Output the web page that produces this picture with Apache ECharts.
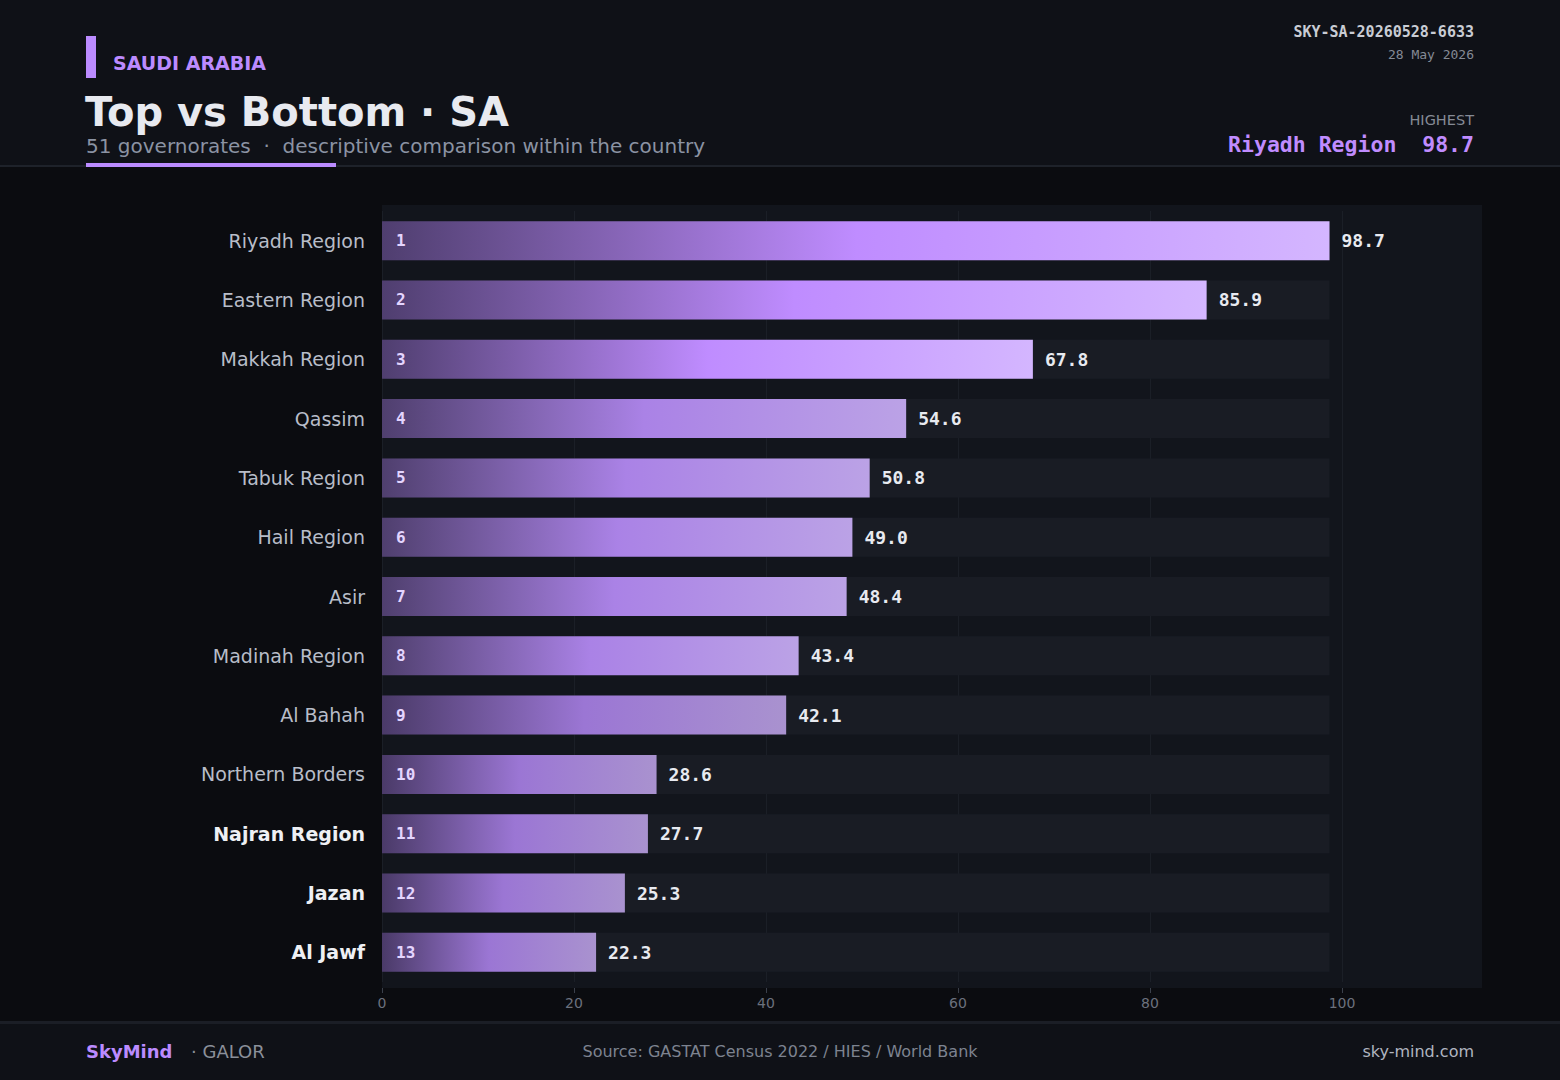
<!DOCTYPE html>
<html>
<head>
<meta charset="utf-8">
<script src="https://cdn.jsdelivr.net/npm/echarts@6/dist/echarts.min.js"></script>
<style>
  html, body { margin: 0; padding: 0; background: #0b0c10; }
  #chart { width: 1560px; height: 1080px; }
</style>
</head>
<body>
<div id="chart"></div>
<script>
// data, ranked top to bottom
var regions = ['Riyadh Region', 'Eastern Region', 'Makkah Region', 'Qassim', 'Tabuk Region', 'Hail Region', 'Asir',
  'Madinah Region', 'Al Bahah', 'Northern Borders', 'Najran Region', 'Jazan', 'Al Jawf'];
var values = [98.7, 85.9, 67.8, 54.6, 50.8, 49.0, 48.4, 43.4, 42.1, 28.6, 27.7, 25.3, 22.3];
var bottomNames = ['Najran Region', 'Jazan', 'Al Jawf'];
var xTicks = [0, 20, 40, 60, 80, 100];

// colour tier per bar (0 bright, 1 mid, 2 dim)
var tierOf = [0, 0, 0, 1, 1, 1, 1, 1, 2, 2, 2, 2, 2];
var tierStops = [
  ['#4f3e6f', '#bf8cff', '#d4b6ff'],
  ['#4f3f6e', '#aa82e6', '#bba2e6'],
  ['#4a3a68', '#9b76d4', '#a992cf']
];

var ACCENT = '#bb8bff';
var SANS = '"DejaVu Sans", "Noto Sans", sans-serif';
var MONO = '"DejaVu Sans Mono", "Liberation Mono", monospace';

var trackLen = Math.max.apply(null, values);

function barGradient(i) {
  var s = tierStops[tierOf[i]];
  return new echarts.graphic.LinearGradient(0, 0, 1, 0, [
    { offset: 0, color: s[0] },
    { offset: 0.5, color: s[1] },
    { offset: 1, color: s[2] }
  ]);
}

var chart = echarts.init(document.getElementById('chart'), null, { renderer: 'svg' });

chart.setOption({
  backgroundColor: '#0b0c10',
  animation: false,
  grid: { left: 382, top: 211, width: 960, height: 771, containLabel: false },
  xAxis: {
    type: 'value', min: xTicks[0], max: xTicks[xTicks.length - 1], interval: 20,
    offset: 6,
    axisLine: { show: false },
    axisTick: { show: true, length: 5, lineStyle: { color: '#3b404b' } },
    axisLabel: { color: '#6b717d', fontSize: 14, fontFamily: SANS, margin: 8 },
    splitLine: { show: true, lineStyle: { color: '#1b1f27', width: 1 } }
  },
  yAxis: {
    type: 'category', inverse: true, data: regions,
    axisLine: { show: false }, axisTick: { show: false },
    axisLabel: {
      margin: 17,
      formatter: function (v) {
        return bottomNames.indexOf(v) >= 0 ? '{b|' + v + '}' : '{r|' + v + '}';
      },
      rich: {
        r: { fontSize: 19, fontFamily: SANS, color: '#b8bdc8' },
        b: { fontSize: 19, fontFamily: SANS, fontWeight: 'bold', color: '#eef0f4' }
      }
    }
  },
  series: [
    {
      type: 'bar', name: 'track', silent: true, z: 1,
      data: values.map(function () { return trackLen; }),
      barWidth: 39, barGap: '-100%',
      itemStyle: { color: '#191c24' }
    },
    {
      type: 'bar', name: 'value', z: 2,
      data: values.map(function (v, i) { return { value: v, itemStyle: { color: barGradient(i) } }; }),
      barWidth: 39, barGap: '-100%',
      label: {
        show: true, position: 'insideLeft', distance: 14,
        formatter: function (p) { return String(p.dataIndex + 1); },
        fontFamily: MONO, fontSize: 16, fontWeight: 'bold', color: '#e4d5ff'
      }
    },
    {
      type: 'bar', name: 'labels', silent: true, z: 3,
      data: values,
      barWidth: 39, barGap: '-100%',
      itemStyle: { color: 'rgba(0,0,0,0)' },
      label: {
        show: true, position: 'right', distance: 12,
        formatter: function (p) { return p.value.toFixed(1); },
        fontFamily: MONO, fontSize: 18, fontWeight: 'bold', color: '#e8eaf0'
      }
    }
  ],
  graphic: [
    // panels
    { type: 'rect', z: -20, shape: { x: 0, y: 0, width: 1560, height: 166 }, style: { fill: '#0f1117' } },
    { type: 'rect', z: -19, shape: { x: 0, y: 165, width: 1560, height: 2 }, style: { fill: '#1e222a' } },
    { type: 'rect', z: -18, shape: { x: 86, y: 163, width: 250, height: 4 }, style: { fill: ACCENT } },
    { type: 'rect', z: -20, shape: { x: 0, y: 1021, width: 1560, height: 59 }, style: { fill: '#0f1117' } },
    { type: 'rect', z: -19, shape: { x: 0, y: 1021, width: 1560, height: 3 }, style: { fill: '#1b1e26' } },
    { type: 'rect', z: -20, shape: { x: 382, y: 205, width: 1100, height: 783 }, style: { fill: '#12151c' } },
    // header left
    { type: 'rect', z: 5, shape: { x: 86, y: 36, width: 10, height: 42 }, style: { fill: ACCENT } },
    { type: 'text', z: 5, style: { x: 113, y: 63, text: 'SAUDI ARABIA', fill: ACCENT, font: 'bold 19px ' + SANS, textVerticalAlign: 'middle' } },
    { type: 'text', z: 5, style: { x: 85, y: 112, text: 'Top vs Bottom · SA', fill: '#e8eaf0', font: 'bold 40px ' + SANS, textVerticalAlign: 'middle' } },
    { type: 'text', z: 5, style: { x: 86, y: 146, text: '51 governorates  ·  descriptive comparison within the country', fill: '#8b93a3', font: '20px ' + SANS, textVerticalAlign: 'middle' } },
    // header right
    { type: 'text', z: 5, style: { x: 1474, y: 32, text: 'SKY-SA-20260528-6633', fill: '#c9ccd4', font: 'bold 15px ' + MONO, textAlign: 'right', textVerticalAlign: 'middle' } },
    { type: 'text', z: 5, style: { x: 1474, y: 54, text: '28 May 2026', fill: '#858a95', font: '13px ' + MONO, textAlign: 'right', textVerticalAlign: 'middle' } },
    { type: 'text', z: 5, style: { x: 1474, y: 120, text: 'HIGHEST', fill: '#858a95', font: '14.5px ' + SANS, textAlign: 'right', textVerticalAlign: 'middle' } },
    { type: 'text', z: 5, style: { x: 1474, y: 144, text: regions[0] + '  ' + values[0].toFixed(1), fill: '#c08cff', font: 'bold 21.5px ' + MONO, textAlign: 'right', textVerticalAlign: 'middle' } },
    // footer
    { type: 'text', z: 5, style: { x: 86, y: 1051, text: 'SkyMind', fill: ACCENT, font: 'bold 18px ' + SANS, textVerticalAlign: 'middle' } },
    { type: 'text', z: 5, style: { x: 191, y: 1051, text: '· GALOR', fill: '#8b909a', font: '18px ' + SANS, textVerticalAlign: 'middle' } },
    { type: 'text', z: 5, style: { x: 780, y: 1051, text: 'Source: GASTAT Census 2022 / HIES / World Bank', fill: '#7d8390', font: '16px ' + SANS, textAlign: 'center', textVerticalAlign: 'middle' } },
    { type: 'text', z: 5, style: { x: 1474, y: 1051, text: 'sky-mind.com', fill: '#b0b5c0', font: '16px ' + SANS, textAlign: 'right', textVerticalAlign: 'middle' } }
  ]
});
</script>
</body>
</html>
